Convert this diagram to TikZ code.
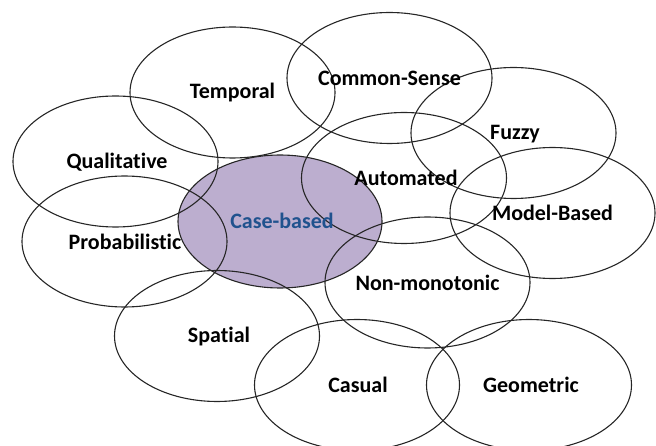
\documentclass[tikz,border=0pt]{standalone}
\usepackage{fontspec}
\setmainfont{Carlito}[Ligatures={NoCommon}]
\usetikzlibrary{shapes.geometric, positioning}

\definecolor{caseFill}{RGB}{188,174,207}
\definecolor{caseText}{RGB}{32,82,142}
\tikzset{
  field/.style={ellipse, draw=black!85, line width=1.1pt, minimum width=205pt, minimum height=131pt, inner sep=0pt},
  word/.style={font=\fontsize{22}{25}\selectfont\bfseries, text=black, inner sep=0pt}
}

\begin{document}
\begin{tikzpicture}[x=1pt, y=-1pt]
\useasboundingbox (0,0) rectangle (656,446);

% the shaded one goes first, the outlines lie over it
\node[field, fill=caseFill, minimum width=204pt, minimum height=133pt](CB) at (280,221.5) {};

\node[field](TE) at (232.5,92.5) {};
\node[field](CS) at (389.5,78) {};
\node[field](FU) at (513.5,133) {};
\node[field](AU) at (404,178) {};
\node[field](QU) at (115.5,161.5) {};
\node[field](PR) at (124.5,241.5) {};
\node[field](MB) at (552.5,213) {};
\node[field](NM) at (427.5,282.5) {};
\node[field](SP) at (217,336) {};
\node[field](CA) at (357,385) {};
\node[field](GE) at (529,385) {};

\node[word](TEt) at (TE) {Temporal};
\node[word](CSt) at (CS) {Common-Sense};
\node[word](FUt) at (515,134) {Fuzzy};
\node[word](AUt) at (406,178) {Automated};
\node[word](QUt) at (117,162) {Qualitative};
\node[word](PRt) at (125,242) {Probabilistic};
\node[word, text=caseText](CBt) at (282,221) {Case-based};
\node[word](MBt) at (MB) {Model-Based};
\node[word](NMt) at (NM) {Non-monotonic};
\node[word](SPt) at (219,337) {Spatial};
\node[word](CAt) at (358,385) {Casual};
\node[word](GEt) at (531,385) {Geometric};
\end{tikzpicture}
\end{document}
